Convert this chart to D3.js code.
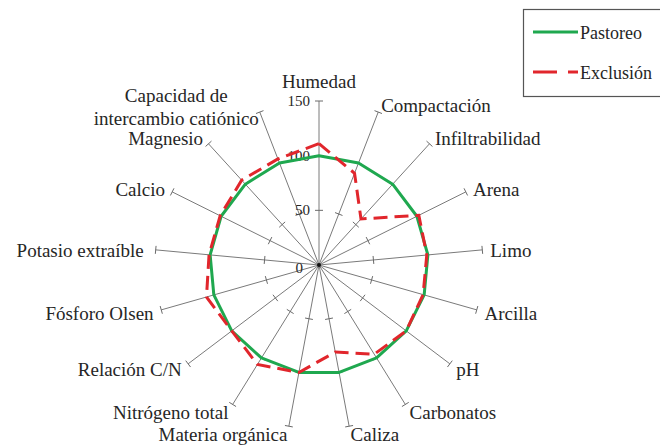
<!DOCTYPE html>
<html>
<head>
<meta charset="utf-8">
<script src="https://cdn.jsdelivr.net/npm/d3@7"></script>
<style>
  html, body { margin: 0; padding: 0; background: #fff; }
  svg { display: block; }
  text { font-family: "Liberation Serif", "Times New Roman", serif; fill: #262626; }
</style>
</head>
<body>
<svg id="chart" width="660" height="446"></svg>
<script>
// ---- data ----
const categories = [
  "Humedad", "Compactación", "Infiltrabilidad", "Arena", "Limo", "Arcilla", "pH",
  "Carbonatos", "Caliza", "Materia orgánica", "Nitrógeno total", "Relación C/N",
  "Fósforo Olsen", "Potasio extraíble", "Calcio", "Magnesio",
  "Capacidad de|intercambio catiónico"
];
const pastoreo = [100, 100, 100, 100, 100, 100, 100, 100, 100, 100, 100, 100, 100, 100, 100, 100, 100];
const exclusion = [111, 90, 57, 102, 99, 99, 100, 96, 81, 100, 107, 100, 107, 101, 101, 105, 104];
const tickValues = [0, 50, 100, 150];
const seriesNames = ["Pastoreo", "Exclusión"];

// ---- layout ----
const svg = d3.select("#chart");
const cx = 319, cy = 265;
const r = d3.scaleLinear().domain([0, 150]).range([0, 164]);
const angle = d3.scaleLinear().domain([0, categories.length]).range([0, 2 * Math.PI]);
const colors = { green: "#1fa84f", red: "#e1262c" };

const g = svg.append("g").attr("transform", `translate(${cx},${cy})`);

function pt(i, v) {
  const a = angle(i);
  return [Math.sin(a) * r(v), -Math.cos(a) * r(v)];
}

// axes
categories.forEach((c, i) => {
  const [x2, y2] = pt(i, 150);
  g.append("line").attr("x1", 0).attr("y1", 0).attr("x2", x2).attr("y2", y2)
    .attr("stroke", "#7a7a7a").attr("stroke-width", 1);
  const a = angle(i);
  const px = Math.cos(a), py = Math.sin(a); // perpendicular
  tickValues.filter(t => t > 0).forEach(t => {
    const [tx, ty] = pt(i, t);
    g.append("line")
      .attr("x1", tx - px * 4).attr("y1", ty - py * 4)
      .attr("x2", tx + px * 4).attr("y2", ty + py * 4)
      .attr("stroke", "#6a6a6a").attr("stroke-width", 1);
  });
});
g.append("circle").attr("r", 2).attr("fill", "#111");

// tick labels on first axis
tickValues.forEach(t => {
  g.append("text")
    .attr("x", t === 0 ? -16 : -9)
    .attr("y", -r(t) + (t === 0 ? 3 : 0))
    .attr("text-anchor", "end")
    .attr("dominant-baseline", "central")
    .style("font-size", "15px")
    .text(t);
});

// category labels
categories.forEach((c, i) => {
  const a = angle(i);
  const s = Math.sin(a), co = Math.cos(a);
  const [ex, ey] = pt(i, 150);
  let x = ex + s * 8, y = ey - co * 8;
  const anchor = s > 0.1 ? "start" : (s < -0.1 ? "end" : "middle");
  const lines = c.split("|");
  if (co > 0.95) {
    g.append("text").attr("x", x).attr("y", y - 5).attr("text-anchor", "middle")
      .style("font-size", "19px").text(c);
    return;
  }
  if (co < -0.9) y -= 1;
  if (s < -0.99) x -= 4;
  if (lines.length === 1) {
    g.append("text").attr("x", x).attr("y", y + 1)
      .attr("text-anchor", anchor).attr("dominant-baseline", "central")
      .style("font-size", "19px").text(c);
  } else {
    const lh = 23;
    const tmp = lines.map(l => g.append("text").style("font-size", "19px").text(l));
    const w = d3.max(tmp, t => t.node().getComputedTextLength());
    tmp.forEach(t => t.remove());
    const mx = anchor === "end" ? x - w / 2 + 2 : (anchor === "start" ? x + w / 2 : x);
    lines.forEach((l, k) => {
      g.append("text").attr("x", mx)
        .attr("y", y + 2 + (k - (lines.length - 1) / 2) * lh)
        .attr("text-anchor", "middle").attr("dominant-baseline", "central")
        .style("font-size", "19px").text(l);
    });
  }
});

// series
const radial = d3.lineRadial()
  .angle((d, i) => angle(i))
  .radius(d => r(d))
  .curve(d3.curveLinearClosed);

g.append("path").attr("d", radial(pastoreo))
  .attr("fill", "none").attr("stroke", colors.green).attr("stroke-width", 3)
  .attr("stroke-linejoin", "round");
g.append("path").attr("d", radial(exclusion))
  .attr("fill", "none").attr("stroke", colors.red).attr("stroke-width", 3)
  .attr("stroke-dasharray", "14,7");

// legend
const lg = svg.append("g");
lg.append("rect").attr("x", 523.5).attr("y", 9.5).attr("width", 160).attr("height", 87)
  .attr("fill", "#fff").attr("stroke", "#555").attr("stroke-width", 1.2);
const legendItems = [
  { name: seriesNames[0], color: colors.green, dash: null, y: 32 },
  { name: seriesNames[1], color: colors.red, dash: "24,11,10,20", y: 72 }
];
legendItems.forEach(d => {
  lg.append("line").attr("x1", 533).attr("x2", 578).attr("y1", d.y).attr("y2", d.y)
    .attr("stroke", d.color).attr("stroke-width", 3)
    .attr("stroke-dasharray", d.dash);
  lg.append("text").attr("x", 580).attr("y", d.y + 1).attr("dominant-baseline", "central")
    .style("font-size", "18px").text(d.name);
});
</script>
</body>
</html>
